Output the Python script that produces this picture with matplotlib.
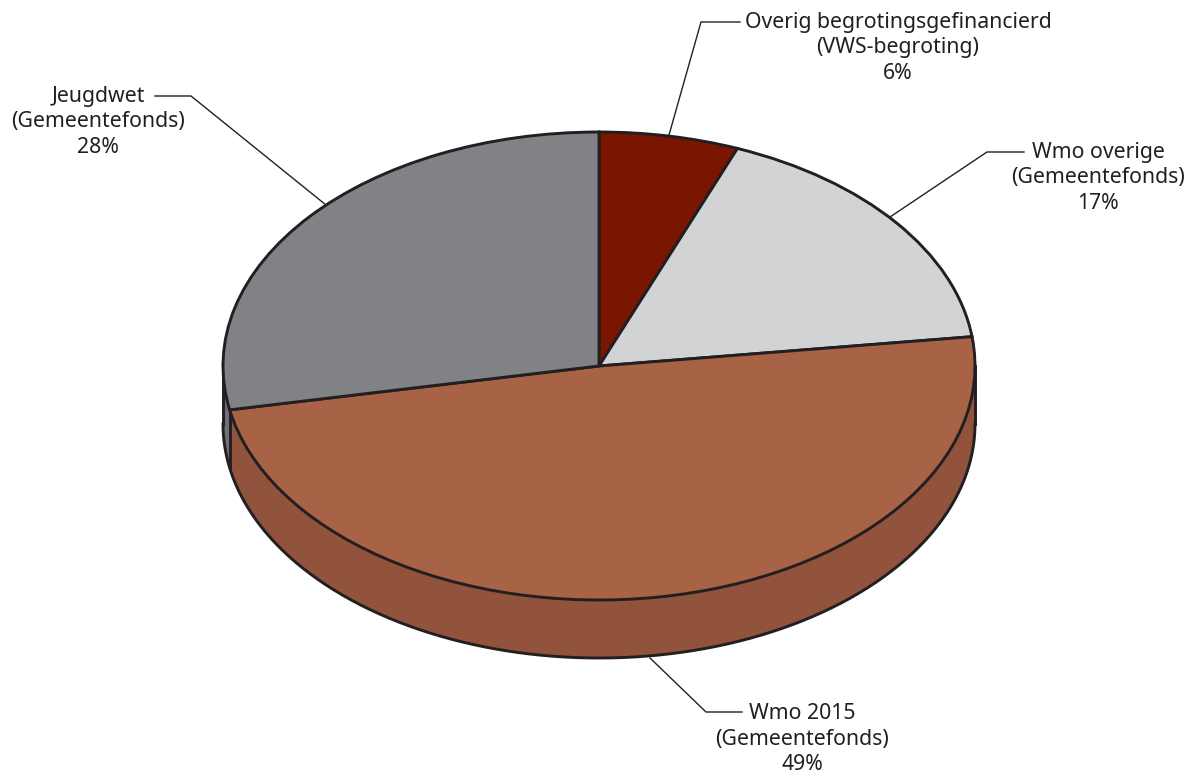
import numpy as np
import matplotlib
matplotlib.use("Agg")
import matplotlib.pyplot as plt

labels = ["Overig begrotingsgefinancierd\n(VWS-begroting)\n6%",
          "Wmo overige\n(Gemeentefonds)\n17%",
          "Wmo 2015\n(Gemeentefonds)\n49%",
          "Jeugdwet\n(Gemeentefonds)\n28%"]
values = [6, 17, 49, 28]
colors = ["#7a1500", "#d1d3d4", "#a86246", "#808285"]
side_brown = "#91533c"
side_gray = "#6e7073"
edge = "#231f20"

# ellipse of the top face, in pixels of the picture
cx, cy, rx, ry = 599, 366, 376, 234
depth = 58 / ry
W, H = 1196, 778

def px(x, y):
    return (x - cx) / rx, (cy - y) / ry

plt.rcParams["font.family"] = ["Noto Sans", "DejaVu Sans"]
fig = plt.figure(figsize=(W / 100, H / 100), dpi=100)
ax = fig.add_axes([0, 0, 1, 1])

# side wall, brown slice meets the gray one where the last slice starts
angle = np.radians(90 - 360 * (1 - values[3] / sum(values)))
split = np.cos(angle)
xs_gray = -np.cos(np.linspace(0, np.arccos(-split), 30))
xs_brown = -np.cos(np.linspace(np.arccos(-split), np.pi, 300))
for xs, col in [(xs_gray, side_gray), (xs_brown, side_brown)]:
    top = -np.sqrt(np.clip(1 - xs ** 2, 0, 1))
    ax.fill_between(xs, top, top - depth, color=col, lw=0, zorder=1)

line_w = 2.1
xs = -np.cos(np.linspace(0, np.pi, 400))
bottom = -np.sqrt(np.clip(1 - xs ** 2, 0, 1)) - depth
ax.plot(xs, bottom, color=edge, lw=line_w, zorder=2)
ax.plot([-1, -1], [0, -depth], color=edge, lw=line_w, zorder=2)
ax.plot([1, 1], [0, -depth], color=edge, lw=line_w, zorder=2)
split_y = -np.sqrt(1 - split ** 2)
ax.plot([split, split], [split_y, split_y - depth], color=edge, lw=line_w, zorder=2)

wedges, _ = ax.pie(values, colors=colors, startangle=90, counterclock=False, radius=1,
                   wedgeprops={"edgecolor": edge, "linewidth": line_w})
for w in wedges:
    w.set_zorder(3)

ax.set_aspect("auto")
ax.set_xlim((0 - cx) / rx, (W - cx) / rx)
ax.set_ylim((cy - H) / ry, cy / ry)
ax.axis("off")

# leader lines
leaders = [[(669, 135), (701, 22), (740, 22)],
           [(890, 217), (987, 152), (1024, 152)],
           [(650, 658), (706, 712), (742, 712)],
           [(326, 205), (191, 96), (155, 96)]]
for pts in leaders:
    p = [px(*q) for q in pts]
    ax.plot([a[0] for a in p], [a[1] for a in p], color=edge, lw=1.0, zorder=4)

label_pos = [(898, 48), (1098, 178), (802, 739), (98, 122)]
for text, (x, y) in zip(labels, label_pos):
    ax.text(*px(x, y), text, ha="center", va="center", ma="center", fontsize=15.3,
            color=edge, linespacing=1.29)

fig.savefig("out.png", dpi=100)
